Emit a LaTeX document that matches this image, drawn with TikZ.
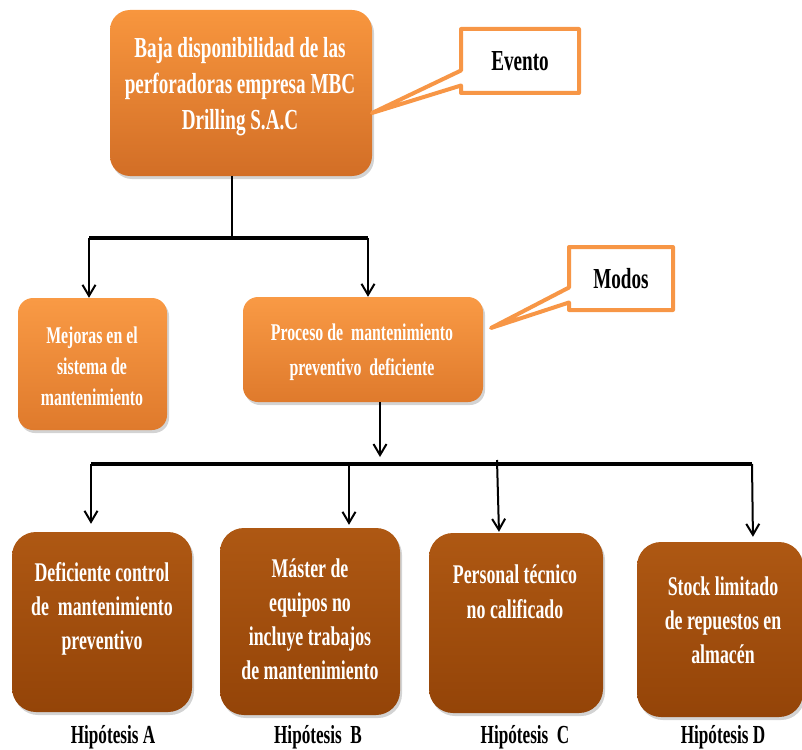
\documentclass[tikz,border=0pt]{standalone}
\usepackage{fontspec}
\setmainfont{Liberation Serif}[FakeStretch=0.66]
\usetikzlibrary{shapes.callouts,shadows,arrows.meta}
\definecolor{orT}{HTML}{F8963E}
\definecolor{orB}{HTML}{D26E26}
\definecolor{or2T}{HTML}{F99A45}
\definecolor{or2B}{HTML}{DF7A2C}
\definecolor{brT}{HTML}{AE5813}
\definecolor{brB}{HTML}{944408}
\definecolor{callc}{HTML}{F79646}
\begin{document}
\begin{tikzpicture}[x=1pt,y=-1pt,
  shad/.style={drop shadow={opacity=0.35, shadow xshift=2pt, shadow yshift=-3pt}},
  obox/.style={shad, rounded corners=20pt, top color=orT, bottom color=orB, inner sep=0pt},
  mbox/.style={shad, rounded corners=15pt, top color=or2T, bottom color=or2B, inner sep=0pt},
  bbox/.style={shad, rounded corners=24pt, top color=brT, bottom color=brB, inner sep=0pt},
  wtxt/.style={text=white, font=\bfseries, align=center, inner sep=0pt},
  ktxt/.style={text=black, font=\bfseries, align=center, inner sep=0pt},
  callbox/.style={rectangle callout, draw=callc, line width=4pt, fill=white, line join=round, callout pointer width=15pt, inner sep=0pt, font=\bfseries\fontsize{29}{34}\selectfont},
  ln/.style={line width=2pt, black},
  bar/.style={line width=4.5pt, black},
  arr/.style={line width=2pt, black, -{Straight Barb[length=11pt,width=13pt]}}
]
\useasboundingbox (0,0) rectangle (802,749);

% top event box
\node[obox, minimum width=262pt, minimum height=166pt] (top) at (241,93) {};
\node[wtxt, font=\bfseries\fontsize{29}{36}\selectfont] (toptxt) at (240,87)
  {Baja disponibilidad de las\\perforadoras empresa MBC\\Drilling S.A.C};

% second level
\node[mbox, minimum width=149pt, minimum height=132pt] (mej) at (92.5,364) {};
\node[wtxt, font=\bfseries\fontsize{24}{31}\selectfont] (mejtxt) at (92,366)
  {Mejoras en el\\sistema de\\mantenimiento};
\node[mbox, minimum width=240pt, minimum height=105pt] (proc) at (363,349.5) {};
\node[wtxt, font=\bfseries\fontsize{24}{35}\selectfont] (proctxt) at (362,352)
  {Proceso de\ \ mantenimiento\\preventivo\ \ deficiente};

% hypotheses boxes
\node[bbox, minimum width=180pt, minimum height=180pt] (ha) at (102,622) {};
\node[wtxt, font=\bfseries\fontsize{27}{34}\selectfont] (hatxt) at (102,609)
  {Deficiente control\\de\ \ mantenimiento\\preventivo};
\node[bbox, minimum width=180pt, minimum height=187pt] (hb) at (310,621.5) {};
\node[wtxt, font=\bfseries\fontsize{27}{34}\selectfont] (hbtxt) at (310,619)
  {Máster de\\equipos no\\incluye trabajos\\de mantenimiento};
\node[bbox, minimum width=174pt, minimum height=180pt] (hc) at (516,623) {};
\node[wtxt, font=\bfseries\fontsize{27}{35}\selectfont] (hctxt) at (515,592)
  {Personal técnico\\no calificado};
\node[bbox, minimum width=166pt, minimum height=175pt] (hd) at (720,629.5) {};
\node[wtxt, font=\bfseries\fontsize{27}{34}\selectfont] (hdtxt) at (723,620)
  {Stock limitado\\de repuestos en\\almacén};

% hypothesis labels
\node[ktxt, font=\bfseries\fontsize{26}{30}\selectfont, anchor=base] (la) at (113,743) {Hipótesis A};
\node[ktxt, font=\bfseries\fontsize{26}{30}\selectfont, anchor=base] (lb) at (318,743) {Hipótesis\ \ B};
\node[ktxt, font=\bfseries\fontsize{26}{30}\selectfont, anchor=base] (lc) at (525,743) {Hipótesis\ \ C};
\node[ktxt, font=\bfseries\fontsize{26}{30}\selectfont, anchor=base] (ld) at (723,743) {Hipótesis D};

% callouts
\node[callbox, minimum width=118pt, minimum height=64pt, callout absolute pointer={(372,113)}] (evento) at (520,61) {Evento};
\node[callbox, minimum width=104pt, minimum height=63pt, callout absolute pointer={(491,328)}] (modos) at (621,278.5) {Modos};

% connectors level 1
\coordinate (j1) at (232,236);
\coordinate (b1l) at (89,238);
\coordinate (b1r) at (368,238);
\draw[ln] (top.south -| j1) -- (j1);
\draw[bar] (b1l) -- (b1r);
\draw[arr] (b1l) -- (mej.north -| b1l);
\draw[arr] (b1r) -- (proc.north -| b1r);

% connectors level 2
\coordinate (j2) at (380,457);
\draw[arr] (proc.south -| j2) -- (j2);
\coordinate (b2l) at (91,464);
\coordinate (b2r) at (752,464);
\coordinate (b2b) at (349,464);
\coordinate (b2c) at (497,460);
\draw[bar] (b2l) -- (b2r);
\draw[arr, shorten >=8pt] (b2l) -- (ha.north -| b2l);
\draw[arr, shorten >=3pt] (b2b) -- (hb.north -| b2b);
\draw[arr, shorten >=1pt] (b2c) -- ([xshift=2pt]hc.north -| b2c);
\draw[arr, shorten >=5pt] (b2r) -- ([xshift=1pt]hd.north -| b2r);
\end{tikzpicture}
\end{document}
